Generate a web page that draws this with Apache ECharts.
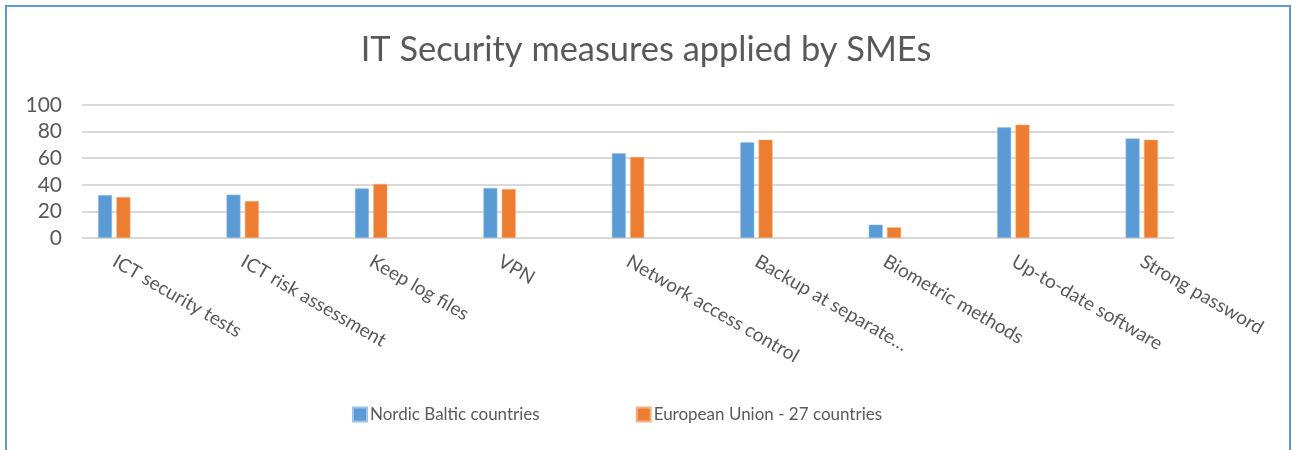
<!DOCTYPE html>
<html><head><meta charset="utf-8">
<script src="https://cdn.jsdelivr.net/npm/echarts@6/dist/echarts.min.js"></script>
<style>html,body{margin:0;padding:0;background:#fff}#c{width:1292px;height:450px}</style>
</head><body><div id="c"></div>
<script>
const categories = ["ICT security tests","ICT risk assessment","Keep log files","VPN","Network access control","Backup at separate…","Biometric methods","Up-to-date software","Strong password"];
const nordicBaltic = [32.3, 32.6, 37.3, 37.6, 63.7, 71.9, 10.0, 83.2, 74.9];
const eu27 = [30.8, 27.8, 40.6, 36.8, 60.9, 73.9, 8.0, 85.2, 73.9];
const yTicks = [0, 20, 40, 60, 80, 100];
const seriesNames = ["Nordic Baltic countries", "European Union - 27 countries"];

const FONT = "Lato";
const chart = echarts.init(document.getElementById('c'), null, {renderer: 'canvas'});
chart.setOption({
  animation: false,
  backgroundColor: '#fff',
  title: {text: 'IT Security measures applied by SMEs', left: 'center', top: 28,
    textStyle: {fontFamily: FONT, fontSize: 34.4, fontWeight: 'normal', color: '#595959'}},
  legend: {left: 347, top: 401, itemWidth: 14, itemHeight: 14, itemGap: 96,
    icon: 'rect', textStyle: {fontFamily: FONT, fontSize: 17, color: '#595959', padding: [0,0,0,-2]},
    data: seriesNames},
  graphic: [{type: 'rect', shape: {x: 6, y: 6, width: 1284, height: 470}, z: -1,
    style: {fill: 'none', stroke: '#5B9BD5', lineWidth: 2}}],
  grid: [
    {left: 82, right: 118, top: 105, bottom: 212},
    {left: 50, right: 86, top: 105, bottom: 212}
  ],
  xAxis: [
    {gridIndex: 0, type: 'category', data: categories, show: false},
    {gridIndex: 1, type: 'category', data: categories,
     axisLine: {show: false}, axisTick: {show: false},
     axisLabel: {rotate: -30, interval: 0, margin: 22, fontFamily: FONT, fontSize: 19, color: '#595959'}}
  ],
  yAxis: [
    {gridIndex: 0, type: 'value', min: 0, max: 100, interval: 20,
     axisLine: {show: false}, axisTick: {show: false},
     axisLabel: {margin: 20, fontFamily: FONT, fontSize: 21, color: '#595959',
       formatter: v => yTicks.includes(v) ? String(v) : ''},
     splitLine: {lineStyle: {color: '#d9d9d9', width: 2}}},
    {gridIndex: 1, type: 'value', min: 0, max: 100, interval: 20, show: false, splitLine: {show: false}}
  ],
  series: [
    {name: seriesNames[0], type: 'bar', xAxisIndex: 1, yAxisIndex: 1, data: nordicBaltic,
     barWidth: 14, barGap: '31%', itemStyle: {color: '#5B9BD5', borderColor: '#9dc3e6', borderWidth: 0.5}},
    {name: seriesNames[1], type: 'bar', xAxisIndex: 1, yAxisIndex: 1, data: eu27,
     barWidth: 14, barGap: '31%', itemStyle: {color: '#ED7D31', borderColor: '#f4b183', borderWidth: 0.5}}
  ]
});
</script></body></html>
